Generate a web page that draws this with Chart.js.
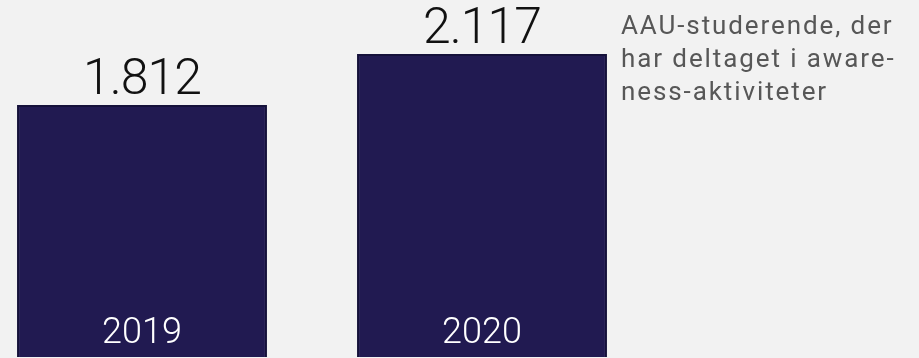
<!DOCTYPE html>
<html>
<head>
<meta charset="utf-8">
<script src="https://cdn.jsdelivr.net/npm/chart.js@4.4.0/dist/chart.umd.min.js"></script>
<style>
  html, body { margin: 0; padding: 0; background: #f2f2f2; overflow: hidden; }
  body { width: 919px; height: 358px; position: relative; }
  #wrap { position: absolute; left: -28px; top: 0; width: 680px; height: 358px; }
  #note {
    position: absolute; left: 621px; top: 9px; width: 300px;
    font-family: Roboto, "DejaVu Sans", sans-serif; font-size: 26px;
    line-height: 33px; color: #575757; letter-spacing: 1.9px;
  }
</style>
</head>
<body>
<div id="wrap"><canvas id="chart"></canvas></div>
<div id="note">AAU-studerende, der<br>har deltaget i aware-<br>ness-aktiviteter</div>
<script>
// data
const years = ['2019', '2020'];
const students = [1812, 2117];

// dansk tusindtalsseparator
function fmt(v) {
  return String(v).replace(/\B(?=(\d{3})+(?!\d))/g, '.');
}

// tal over søjlerne og årstal nederst i søjlerne
const barLabels = {
  id: 'barLabels',
  afterDatasetsDraw(chart) {
    const ctx = chart.ctx;
    const meta = chart.getDatasetMeta(0);
    ctx.save();
    ctx.textAlign = 'center';
    ctx.textBaseline = 'alphabetic';
    meta.data.forEach((bar, i) => {
      ctx.fillStyle = '#111111';
      ctx.font = '300 50px Roboto, "DejaVu Sans", sans-serif';
      ctx.letterSpacing = '-1px';
      ctx.fillText(fmt(students[i]), bar.x, bar.y - 11);
      ctx.fillStyle = '#ffffff';
      ctx.font = '300 36px Roboto, "DejaVu Sans", sans-serif';
      ctx.letterSpacing = '0px';
      ctx.fillText(years[i], bar.x, 343);
    });
    ctx.restore();
  }
};

const ctx = document.getElementById('chart').getContext('2d');
new Chart(ctx, {
  type: 'bar',
  data: {
    labels: years,
    datasets: [{
      data: students,
      backgroundColor: '#211a51',
      borderColor: '#15113a',
      borderWidth: 2,
      borderSkipped: false,
      categoryPercentage: 1,
      barPercentage: 0.735
    }]
  },
  options: {
    responsive: true,
    maintainAspectRatio: false,
    animation: false,
    layout: { padding: { top: 0, bottom: 1, left: 0, right: 0 } },
    plugins: {
      legend: { display: false },
      tooltip: { enabled: false }
    },
    scales: {
      x: { display: false },
      y: { display: false, min: 305, max: 2440 }
    }
  },
  plugins: [barLabels]
});
</script>
</body>
</html>
